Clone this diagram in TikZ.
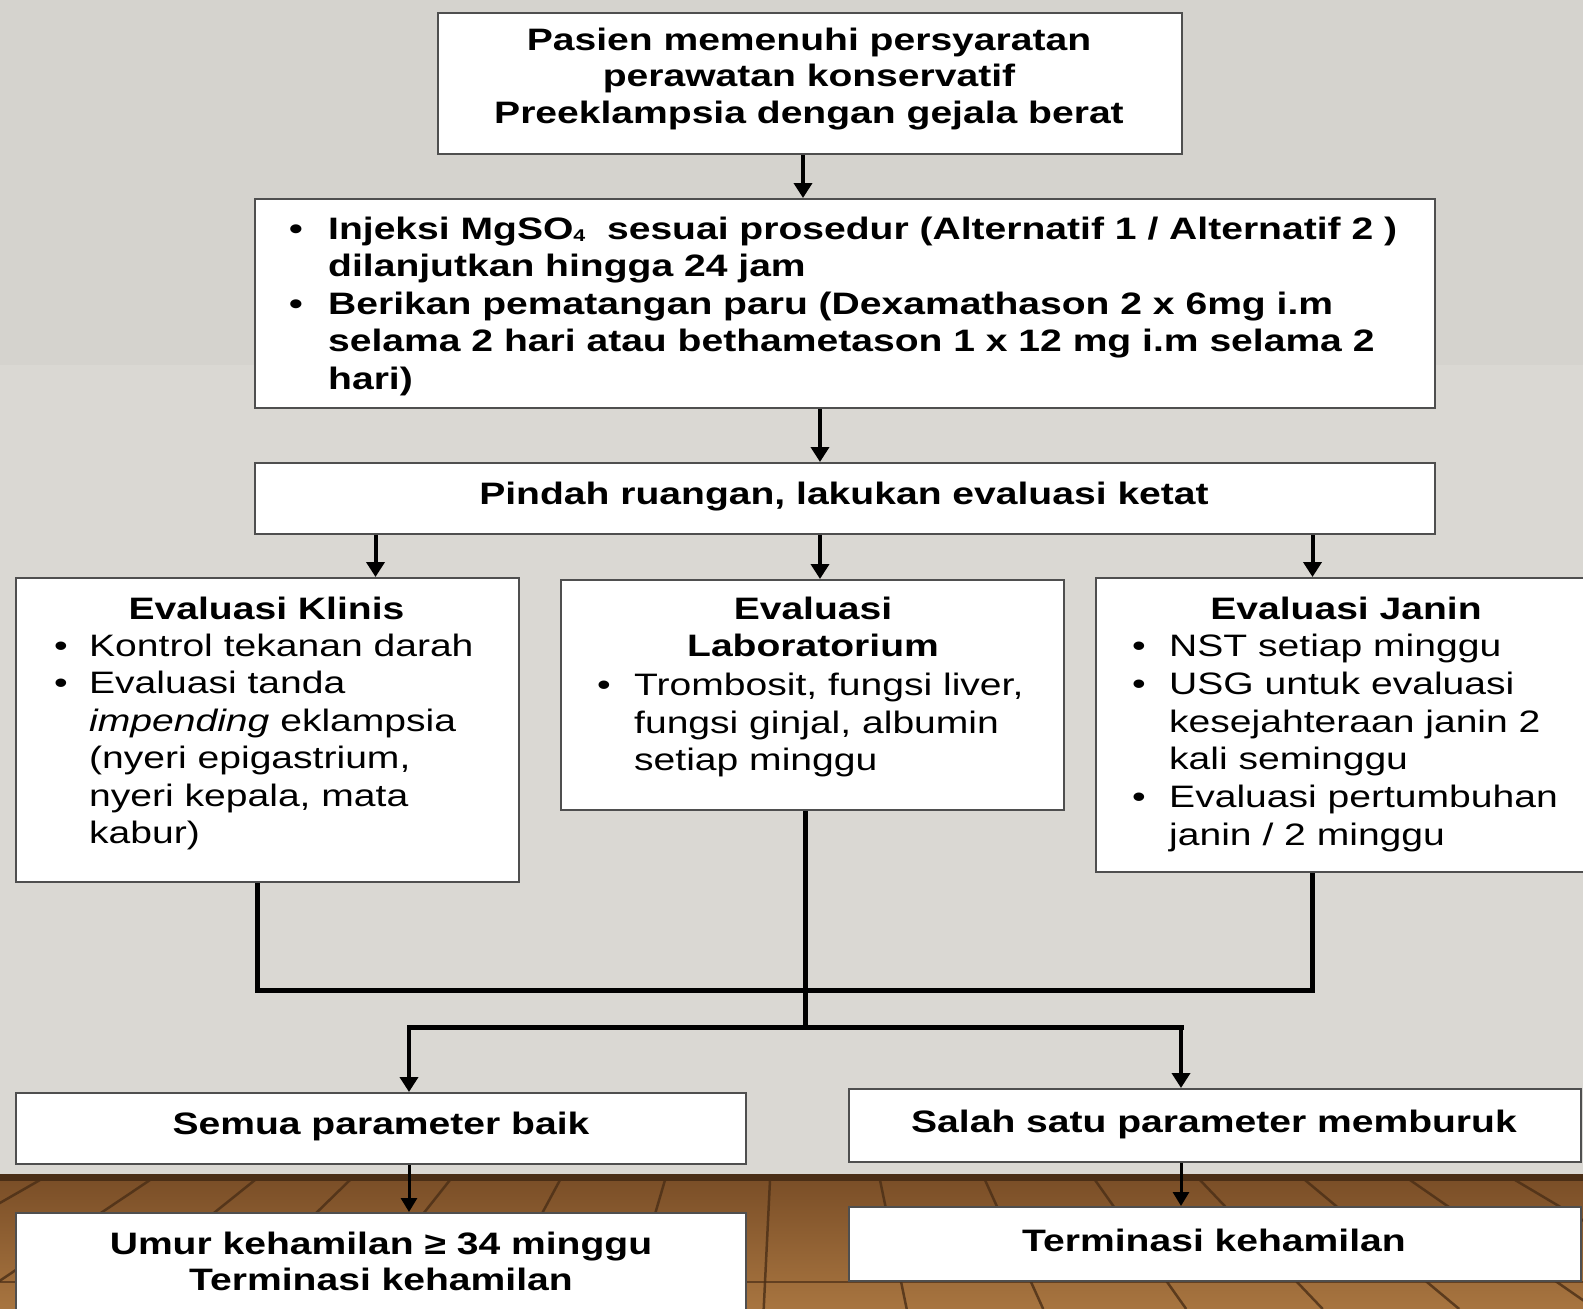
\documentclass[tikz,border=0pt]{standalone}
\usepackage{fontspec}
\setmainfont{Liberation Sans}[FakeStretch=1.26]
\usetikzlibrary{arrows.meta}
\definecolor{wall}{HTML}{DAD8D3}
\definecolor{walltop}{HTML}{D5D3CE}
\definecolor{woodtop}{HTML}{7A4E27}
\definecolor{woodbot}{HTML}{A87540}
\definecolor{seam}{HTML}{4A2E16}
\definecolor{boxline}{HTML}{4F4F4F}
\begin{document}
\begin{tikzpicture}[x=1pt,y=-1pt,
  box/.style={draw=boxline,line width=2pt,fill=white,rectangle,inner sep=0pt,anchor=north west},
  txt/.style={inner sep=0pt,font=\fontsize{31}{37.5}\selectfont},
  btxt/.style={inner sep=0pt,font=\fontsize{31}{37.5}\selectfont\bfseries},
  arr/.style={line width=4pt,-{Triangle[width=18pt,length=15pt]}},
  thinarr/.style={line width=3pt,-{Triangle[width=16pt,length=14pt]}},
  merge/.style={line width=5pt}]
\useasboundingbox (0,0) rectangle (1583,1309);
% background: wall and wooden floor
\fill[walltop] (0,0) rectangle (1583,365);
\fill[wall] (0,365) rectangle (1583,1178);
\shade[top color=woodtop,bottom color=woodbot] (0,1178) rectangle (1583,1309);
\foreach \xt in {40,150,255,350,450,560,665,770,880,985,1095,1200,1305,1410,1515}
  \draw[seam,line width=2.5pt,opacity=.8] (\xt,1180) -- ({791+(\xt-791)*1.3},1309);
\draw[seam,line width=2pt,opacity=.7] (0,1282) -- (1583,1282);
\fill[seam] (0,1174) rectangle (1583,1181);
% boxes
\node[box,minimum width=744pt,minimum height=141pt] (b1) at (437,12) {};
\node[box,minimum width=1180pt,minimum height=209pt] (b2) at (254,198) {};
\node[box,minimum width=1180pt,minimum height=71pt] (b3) at (254,462) {};
\node[box,minimum width=503pt,minimum height=304pt] (b4) at (15,577) {};
\node[box,minimum width=503pt,minimum height=230pt] (b5) at (560,579) {};
\node[box,minimum width=497pt,minimum height=294pt] (b6) at (1095,577) {};
\node[box,minimum width=730pt,minimum height=71pt] (b7) at (15,1092) {};
\node[box,minimum width=732pt,minimum height=73pt] (b8) at (848,1088) {};
\node[box,minimum width=730pt,minimum height=110pt] (b9) at (15,1212) {};
\node[box,minimum width=732pt,minimum height=74pt] (b10) at (848,1206) {};
% texts
\node[btxt,font=\fontsize{31}{36.5}\selectfont\bfseries,align=center,anchor=north] (t1) at (809,24.4)
  {\strut Pasien memenuhi persyaratan\\\strut perawatan konservatif\\\strut Preeklampsia dengan gejala berat};
\node[btxt,align=left,anchor=north west] (t2) at (289,212.8)
  {\strut\makebox[39pt][l]{\textbullet}Injeksi MgSO\raisebox{-2pt}{\fontsize{17}{17}\selectfont 4}\ \ sesuai prosedur (Alternatif 1 / Alternatif 2 )\\
   \strut\hspace*{39pt}dilanjutkan hingga 24 jam\\
   \strut\makebox[39pt][l]{\textbullet}Berikan pematangan paru (Dexamathason 2 x 6mg i.m\\
   \strut\hspace*{39pt}selama 2 hari atau bethametason 1 x 12 mg i.m selama 2\\
   \strut\hspace*{39pt}hari)};
\node[btxt,anchor=base] (t3) at (844,504) {Pindah ruangan, lakukan evaluasi ketat};
\node[btxt,anchor=base] (t4h) at (266.5,619) {Evaluasi Klinis};
\node[txt,align=left,anchor=north west] (t4) at (54,629.75)
  {\strut\makebox[35pt][l]{\textbullet}Kontrol tekanan darah\\
   \strut\makebox[35pt][l]{\textbullet}Evaluasi tanda\\
   \strut\hspace*{35pt}\textit{impending} eklampsia\\
   \strut\hspace*{35pt}(nyeri epigastrium,\\
   \strut\hspace*{35pt}nyeri kepala, mata\\
   \strut\hspace*{35pt}kabur)};
\node[btxt,align=center,anchor=north] (t5h) at (813,592.75) {\strut Evaluasi\\\strut Laboratorium};
\node[txt,align=left,anchor=north west] (t5) at (597,669.25)
  {\strut\makebox[37pt][l]{\textbullet}Trombosit, fungsi liver,\\
   \strut\hspace*{37pt}fungsi ginjal, albumin\\
   \strut\hspace*{37pt}setiap minggu};
\node[btxt,anchor=base] (t6h) at (1346,619) {Evaluasi Janin};
\node[txt,font=\fontsize{31}{37.9}\selectfont,align=left,anchor=north west] (t6) at (1132,629.5)
  {\strut\makebox[37pt][l]{\textbullet}NST setiap minggu\\
   \strut\makebox[37pt][l]{\textbullet}USG untuk evaluasi\\
   \strut\hspace*{37pt}kesejahteraan janin 2\\
   \strut\hspace*{37pt}kali seminggu\\
   \strut\makebox[37pt][l]{\textbullet}Evaluasi pertumbuhan\\
   \strut\hspace*{37pt}janin / 2 minggu};
\node[btxt,anchor=base] (t7) at (381,1134) {Semua parameter baik};
\node[btxt,anchor=base] (t8) at (1214,1132) {Salah satu parameter memburuk};
\node[btxt,font=\fontsize{31}{36}\selectfont\bfseries,align=center,anchor=north] (t9) at (381,1228.8)
  {\strut Umur kehamilan ≥ 34 minggu\\\strut Terminasi kehamilan};
\node[btxt,anchor=base] (t10) at (1214,1251) {Terminasi kehamilan};
% connectors
\coordinate (a1) at (803,0);
\coordinate (a2) at (820,0);
\coordinate (a3) at (375.5,0);
\coordinate (a5) at (1312.5,0);
\draw[arr] (b1.south -| a1) -- (b2.north -| a1);
\draw[arr] (b2.south -| a2) -- (b3.north -| a2);
\draw[arr] (b3.south -| a3) -- (b4.north -| a3);
\draw[arr] (b3.south -| a2) -- (b5.north -| a2);
\draw[arr] (b3.south -| a5) -- (b6.north -| a5);
\coordinate (m1) at (257.5,990);
\coordinate (m2) at (1312.5,990);
\coordinate (m3) at (805,1027);
\coordinate (s1) at (409,1027);
\coordinate (s2) at (1181,1027);
\draw[merge] (b4.south -| m1) -- (m1) -- (m2) -- (b6.south -| m2);
\draw[merge] (b5.south -| m3) -- (m3);
\draw[merge,line cap=rect] (s1) -- (s2);
\draw[arr] (s1) -- (b7.north -| s1);
\draw[arr] (s2) -- (b8.north -| s2);
\draw[thinarr] (b7.south -| s1) -- (b9.north -| s1);
\draw[thinarr] (b8.south -| s2) -- (b10.north -| s2);
\end{tikzpicture}
\end{document}
